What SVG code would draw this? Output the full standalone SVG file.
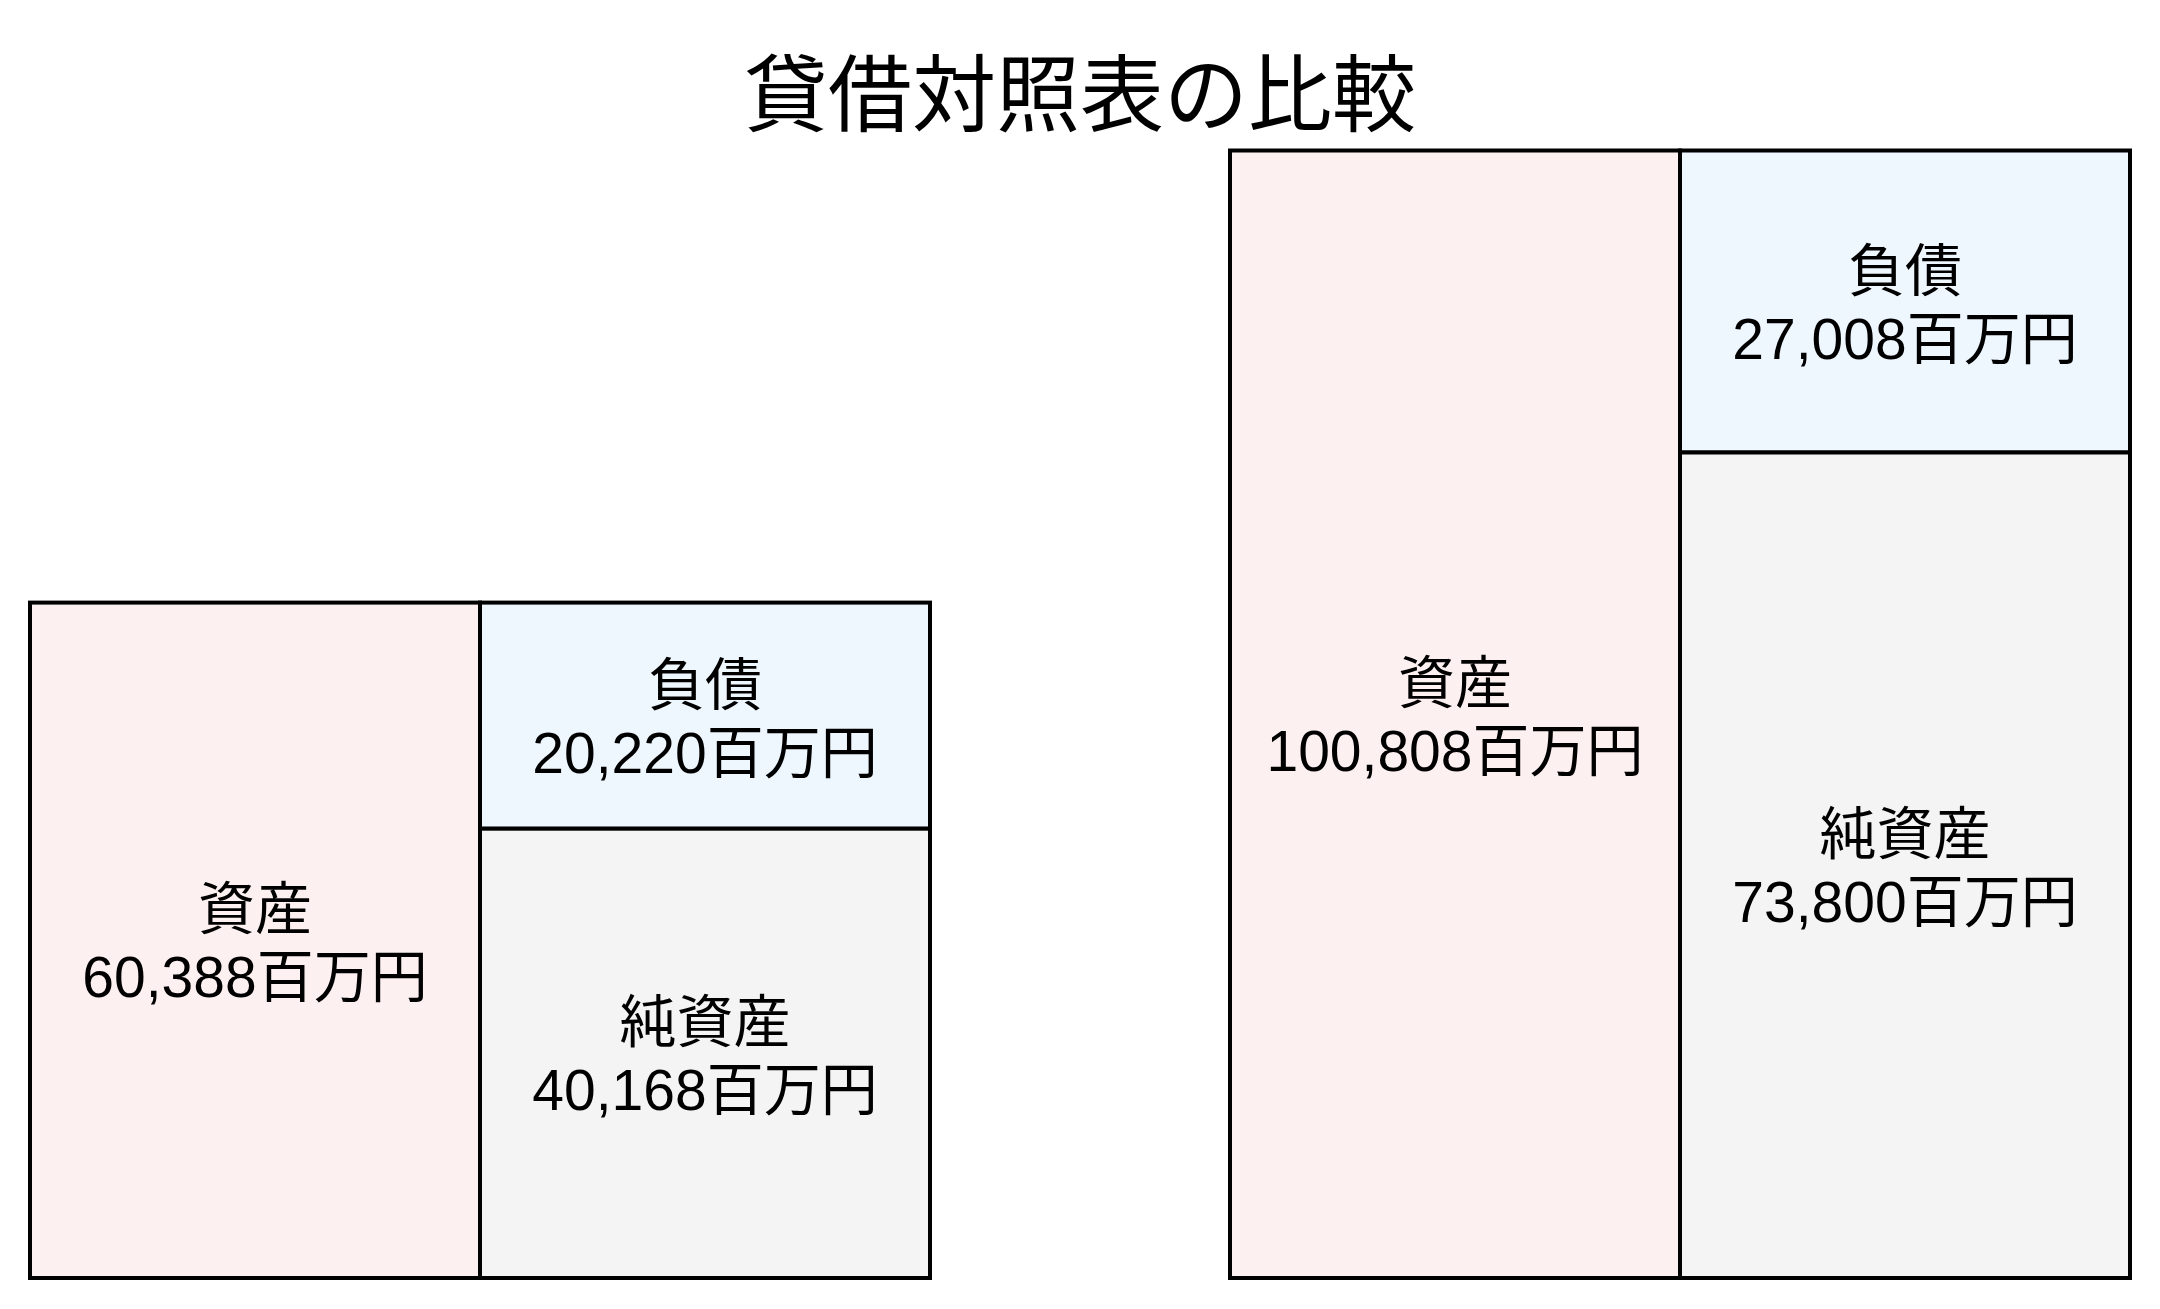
<svg xmlns="http://www.w3.org/2000/svg" width="2160" height="1309" viewBox="0 0 2160 1309">
  <style>
    .box { stroke: #000000; stroke-width: 4; }
    .asset { fill: #FDF0F0; }
    .liab { fill: #EEF6FE; }
    .equity { fill: #F4F4F4; }
    .label { font-family: "Liberation Sans", "Noto Sans CJK JP", sans-serif; font-size: 57px; fill: #000000; text-anchor: middle; }
    .title { font-family: "Liberation Sans", "Noto Sans CJK JP", sans-serif; font-size: 84px; fill: #000000; text-anchor: middle; }
  </style>
  <rect x="0" y="0" width="2160" height="1309" fill="#FFFFFF"/>
  <text class="title" x="1080" y="125">貸借対照表の比較</text>

  <g id="left-asset">
    <rect class="box asset" x="30" y="602.6" width="450" height="675.4"/>
    <text class="label" x="255" y="929">資産</text>
    <text class="label" x="255" y="997">60,388百万円</text>
  </g>
  <g id="left-liability">
    <rect class="box liab" x="480" y="602.6" width="450" height="226.1"/>
    <text class="label" x="705" y="704.5">負債</text>
    <text class="label" x="705" y="772.5">20,220百万円</text>
  </g>
  <g id="left-equity">
    <rect class="box equity" x="480" y="828.7" width="450" height="449.3"/>
    <text class="label" x="705" y="1042">純資産</text>
    <text class="label" x="705" y="1110">40,168百万円</text>
  </g>

  <g id="right-asset">
    <rect class="box asset" x="1230" y="150.5" width="450" height="1127.5"/>
    <text class="label" x="1455" y="703">資産</text>
    <text class="label" x="1455" y="771">100,808百万円</text>
  </g>
  <g id="right-liability">
    <rect class="box liab" x="1680" y="150.5" width="450" height="302"/>
    <text class="label" x="1905" y="290.5">負債</text>
    <text class="label" x="1905" y="358.5">27,008百万円</text>
  </g>
  <g id="right-equity">
    <rect class="box equity" x="1680" y="452.5" width="450" height="825.5"/>
    <text class="label" x="1905" y="854">純資産</text>
    <text class="label" x="1905" y="922">73,800百万円</text>
  </g>

  <g id="connectors"></g>
</svg>
